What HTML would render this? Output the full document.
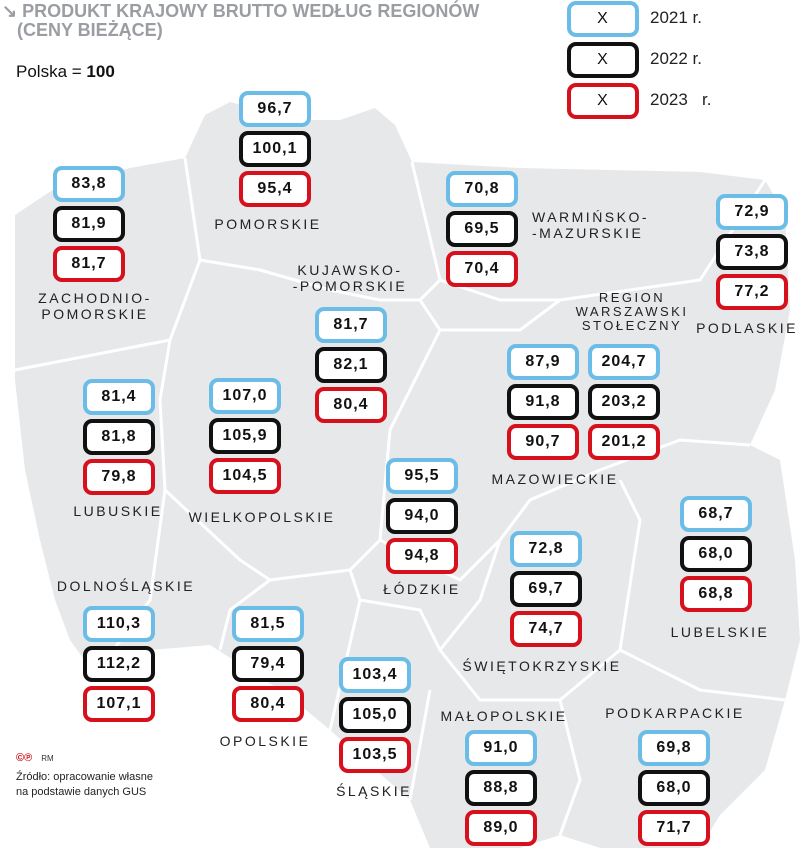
<!DOCTYPE html>
<html><head><meta charset="utf-8">
<style>
body{margin:0;width:805px;height:849px;background:#fff;overflow:hidden;font-family:"Liberation Sans",sans-serif;}
#root{position:relative;width:805px;height:849px;}
.t{position:absolute;white-space:nowrap;}
.box{position:absolute;width:64px;height:28px;border:4px solid;border-radius:9px;background:#fff;font-weight:bold;font-size:16px;line-height:28px;text-align:center;color:#111;letter-spacing:1px;}
.lab{position:absolute;font-size:14px;letter-spacing:2.5px;color:#222;text-align:center;line-height:16px;transform:translateX(-50%);white-space:nowrap;}
</style></head><body>
<div id="root">
<svg width="805" height="849" style="position:absolute;left:0;top:0">
<path fill="#e6e8ea" d="M15,215 L60,185 L130,168 L185,158 L205,115 L230,102 L300,120 L340,120 L375,108 L395,125 L412,162 L520,168 L700,172 L765,180 L785,215 L790,310 L775,390 L750,445 L780,460 L795,560 L800,640 L785,700 L765,770 L720,815 L700,848 L600,848 L560,835 L520,848 L430,848 L410,800 L330,730 L300,705 L280,690 L210,645 L150,650 L95,675 L70,640 L55,600 L40,540 L25,470 L15,380 Z"/>
<g stroke="#fff" stroke-width="3" fill="none">
<path d="M185,158 L200,260 L170,340 L15,370"/>
<path d="M200,260 L260,270 L330,290 L380,300 L420,300 L440,280 L412,162"/>
<path d="M440,280 L500,300 L560,300 L700,280 L765,180"/>
<path d="M420,300 L440,330 L520,330 L560,300"/>
<path d="M170,340 L160,400 L165,490 L150,600 L95,675"/>
<path d="M165,490 L240,560 L270,580 L350,570 L380,540 L390,430 L440,330"/>
<path d="M380,540 L460,580 L500,540 L530,500 L600,470 L680,440 L750,445"/>
<path d="M270,580 L230,610 L220,650"/>
<path d="M350,570 L360,600 L330,730"/>
<path d="M360,600 L420,610 L440,650 L480,700 L560,700 L620,650 L640,520 L620,480"/>
<path d="M440,650 L480,600 L500,540"/>
<path d="M560,700 L580,780 L560,835"/>
<path d="M620,650 L700,690 L785,700"/>
<path d="M430,690 L410,800"/>
</g>
</svg>
<div class="t" style="left:2px;top:2px;font-size:18px;font-weight:bold;color:#9a9ea3;line-height:19px">↘ PRODUKT KRAJOWY BRUTTO WEDŁUG REGIONÓW<br>&nbsp;&nbsp;&nbsp;(CENY BIEŻĄCE)</div>
<div class="t" style="left:16px;top:62px;font-size:17px;color:#111">Polska = <b>100</b></div>
<div class="t" style="left:16px;top:752px;font-size:11px;color:#d0101a;font-weight:bold">©℗ <span style="color:#333;font-weight:normal;font-size:8px;margin-left:6px">RM</span></div>
<div class="t" style="left:16px;top:770px;font-size:11px;color:#222;line-height:15px">Źródło: opracowanie własne<br>na podstawie danych GUS</div>
<div id="legend"></div>
<div id="marks"></div>
</div>
<script>
const regions=["POMORSKIE","ZACHODNIO-\nPOMORSKIE","WARMIŃSKO-\n-MAZURSKIE","PODLASKIE","KUJAWSKO-\n-POMORSKIE","REGION\nWARSZAWSKI\nSTOŁECZNY","MAZOWIECKIE","LUBUSKIE","WIELKOPOLSKIE","ŁÓDZKIE","LUBELSKIE","ŚWIĘTOKRZYSKIE","DOLNOŚLĄSKIE","OPOLSKIE","ŚLĄSKIE","MAŁOPOLSKIE","PODKARPACKIE"];
const v2021=[96.7,83.8,70.8,72.9,81.7,204.7,87.9,81.4,107.0,95.5,68.7,72.8,110.3,81.5,103.4,91.0,69.8];
const v2022=[100.1,81.9,69.5,73.8,82.1,203.2,91.8,81.8,105.9,94.0,68.0,69.7,112.2,79.4,105.0,88.8,68.0];
const v2023=[95.4,81.7,70.4,77.2,80.4,201.2,90.7,79.8,104.5,94.8,68.8,74.7,107.1,80.4,103.5,89.0,71.7];
const years=["2021 r.","2022 r.","2023   r."];
// layout: [boxLeft, firstBoxCenterY, labelCenterX, labelTopY]
const layout=[[239,109,268,216],[53,184,95,290],[446,189,591,209],[716,212,747,320],[315,325,350,262],[588,362,632,291],[507,362,555,471],[83,397,118,503],[209,396,262,509],[386,476,422,581],[680,514,720,624],[510,549,542,658],[83,624,126,578],[232,624,265,733],[339,675,374,783],[465,748,504,708],[638,748,675,705]];
const colors=["#6bbde8","#111","#d6101c"];
const fmt=v=>v.toFixed(1).replace(".",",");
const marks=document.getElementById("marks");
const series=[v2021,v2022,v2023];
regions.forEach((r,i)=>{
  const [x,cy,lx,ly]=layout[i];
  series.forEach((s,k)=>{
    const b=document.createElement("div");
    b.className="box";
    
    
    b.style.left=x+"px";b.style.top=(cy+k*40-18)+"px";b.style.borderColor=colors[k];
    b.textContent=fmt(s[i]);
    marks.appendChild(b);
  });
  const l=document.createElement("div");
  l.className="lab";
  
  
  l.style.left=lx+"px";l.style.top=ly+"px";
  if(i===2){l.style.transform="none";l.style.left="532px";l.style.textAlign="left";}
  l.innerHTML=r.replace(/\n/g,"<br>");
  if(i===5){l.style.fontSize="13px";l.style.lineHeight="14px";}
  marks.appendChild(l);
});
const lg=document.getElementById("legend");
years.forEach((y,k)=>{
  const b=document.createElement("div");
  b.className="box";
  
  
  b.style.left="567px";b.style.top=(19+k*41-18)+"px";b.style.borderColor=colors[k];b.style.fontWeight="normal";
  b.textContent="X";
  lg.appendChild(b);
  const t=document.createElement("div");
  t.className="t";
  
  
  t.style.left="650px";t.style.top=(19+k*41-11)+"px";t.style.fontSize="17px";t.style.whiteSpace="pre";t.style.color="#222";
  t.textContent=y;
  lg.appendChild(t);
});
</script>
</body></html>
